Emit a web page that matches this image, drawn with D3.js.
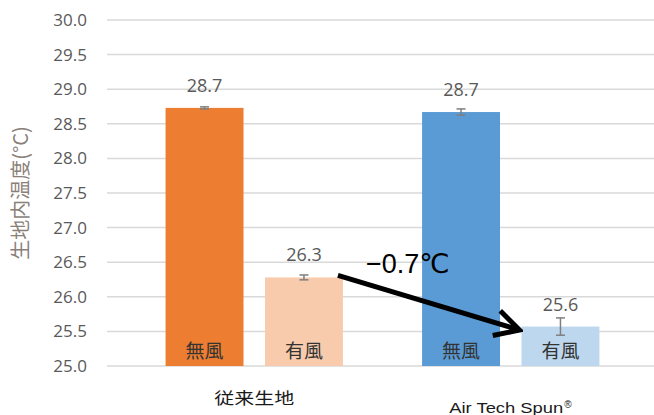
<!DOCTYPE html>
<html>
  <head>
    <meta charset="utf-8" />
    <script src="https://cdnjs.cloudflare.com/ajax/libs/d3/7.8.5/d3.min.js"></script>
    <style>
      body { margin: 0; background: #fff; }
      svg { display: block; }
    </style>
  </head>
  <body>
    <svg width="654" height="415"></svg>
  </body>
  <script>
    // data
    const groups = ["従来生地", "Air Tech Spun®"];
    const conditions = ["無風", "有風"];
    const means = [
      [28.73, 26.28],
      [28.67, 25.57],
    ];
    const errors = [
      [0.015, 0.035],
      [0.045, 0.125],
    ];
    const yTicks = [25.0, 25.5, 26.0, 26.5, 27.0, 27.5, 28.0, 28.5, 29.0, 29.5, 30.0];
    const colors = [
      ["#ED7D31", "#F8CBAD"],
      ["#5B9BD5", "#BDD7EE"],
    ];
    const diffLabel = "−0.7℃";

    const svg = d3.select("svg");
    const numFont = "'Open Sans', 'Noto Sans', sans-serif";
    const jpFont = "'Noto Sans CJK JP', sans-serif";

    const y = d3.scaleLinear().domain([25, 30]).range([366, 20]);
    const xGroup = d3.scaleBand().domain(groups).range([126, 639]).padding(0);
    const xInner = d3
      .scaleBand()
      .domain(conditions)
      .range([0, xGroup.bandwidth()])
      .paddingInner(0.216)
      .paddingOuter(0.398);

    // gridlines
    svg
      .append("g")
      .selectAll("line")
      .data(yTicks)
      .join("line")
      .attr("x1", 107)
      .attr("x2", 654)
      .attr("y1", (d) => y(d))
      .attr("y2", (d) => y(d))
      .attr("stroke", "#d9d9d9")
      .attr("stroke-width", 1.5);

    // y axis labels
    const yAxis = d3
      .axisLeft(y)
      .tickValues(yTicks)
      .tickFormat(d3.format(".1f"))
      .tickSize(0)
      .tickPadding(0);
    const ya = svg.append("g").attr("transform", "translate(87,0)").call(yAxis);
    ya.select(".domain").remove();
    ya.selectAll("text")
      .attr("fill", "#595959")
      .style("font-family", numFont)
      .style("font-size", "17px");

    svg
      .append("text")
      .attr("transform", "translate(28,193) rotate(-90)")
      .attr("text-anchor", "middle")
      .attr("fill", "#8a7f79")
      .style("font-family", jpFont)
      .style("font-size", "20px")
      .text("生地内温度(°C)");

    const bars = [];
    groups.forEach((g, gi) =>
      conditions.forEach((c, ci) =>
        bars.push({ g, c, gi, ci, v: means[gi][ci], e: errors[gi][ci] })
      )
    );
    const bx = (d) => xGroup(d.g) + xInner(d.c);
    const bw = xInner.bandwidth();

    svg
      .append("g")
      .selectAll("rect")
      .data(bars)
      .join("rect")
      .attr("x", bx)
      .attr("y", (d) => y(d.v))
      .attr("width", bw)
      .attr("height", (d) => y(25) - y(d.v))
      .attr("fill", (d) => colors[d.gi][d.ci]);

    // error bars
    const eb = svg.append("g").attr("stroke", "#7f7f7f").attr("stroke-width", 1.5);
    bars.forEach((d) => {
      const cx = bx(d) + bw / 2;
      eb.append("line").attr("x1", cx).attr("x2", cx).attr("y1", y(d.v + d.e)).attr("y2", y(d.v - d.e));
      [d.v + d.e, d.v - d.e].forEach((v) =>
        eb.append("line").attr("x1", cx - 4.5).attr("x2", cx + 4.5).attr("y1", y(v)).attr("y2", y(v))
      );
    });

    // value labels
    svg
      .append("g")
      .selectAll("text")
      .data(bars)
      .join("text")
      .attr("x", (d) => bx(d) + bw / 2)
      .attr("y", (d) => y(d.v) - 16)
      .attr("text-anchor", "middle")
      .attr("fill", "#595959")
      .style("font-family", numFont)
      .style("font-size", "18px")
      .text((d) => d3.format(".1f")(d.v));

    // condition labels inside bars
    svg
      .append("g")
      .selectAll("text")
      .data(bars)
      .join("text")
      .attr("x", (d) => bx(d) + bw / 2)
      .attr("y", 358)
      .attr("text-anchor", "middle")
      .attr("fill", "#333")
      .style("font-family", jpFont)
      .style("font-size", "19px")
      .text((d) => d.c);

    // group labels
    const glen = [80, 114];
    const gy = [404, 413];
    const gl = svg
      .append("g")
      .selectAll("text")
      .data(groups)
      .join("text")
      .attr("x", (d, i) => xGroup(d) + xGroup.bandwidth() / 2 - (i === 0 ? glen[i] : 123) / 2)
      .attr("y", (d, i) => gy[i])
      .attr("fill", "#1a1a1a")
      .style("font-family", (d, i) => (i === 0 ? jpFont : "'Liberation Sans', sans-serif"))
      .style("font-size", (d, i) => (i === 0 ? "16px" : "15px"));
    gl.append("tspan")
      .attr("textLength", (d, i) => glen[i])
      .attr("lengthAdjust", "spacingAndGlyphs")
      .text((d) => d.replace("®", ""));
    gl.filter((d) => d.includes("®"))
      .append("tspan")
      .attr("dx", 1)
      .attr("dy", -5)
      .style("font-size", "10px")
      .text("®");

    // difference arrow
    svg
      .append("defs")
      .append("marker")
      .attr("id", "head")
      .attr("markerUnits", "userSpaceOnUse")
      .attr("orient", "auto")
      .attr("refX", 0)
      .attr("refY", 0)
      .attr("viewBox", "-30 -18 34 36")
      .attr("markerWidth", 34)
      .attr("markerHeight", 36)
      .append("path")
      .attr("d", "M-24,-13 L0,0 L-24,13")
      .attr("fill", "none")
      .attr("stroke", "#000")
      .attr("stroke-width", 5);

    const from = bars[1];
    const to = bars[3];
    svg
      .append("line")
      .attr("x1", bx(from) + bw - 5)
      .attr("y1", y(26.31))
      .attr("x2", bx(to) - 2)
      .attr("y2", y(25.52))
      .attr("stroke", "#000")
      .attr("stroke-width", 5)
      .attr("marker-end", "url(#head)");

    svg
      .append("text")
      .attr("x", 366)
      .attr("y", 273)
      .attr("fill", "#000")
      .style("font-family", "'Liberation Sans', 'DejaVu Sans', sans-serif")
      .style("font-size", "27px")
      .text(diffLabel);
  </script>
</html>
